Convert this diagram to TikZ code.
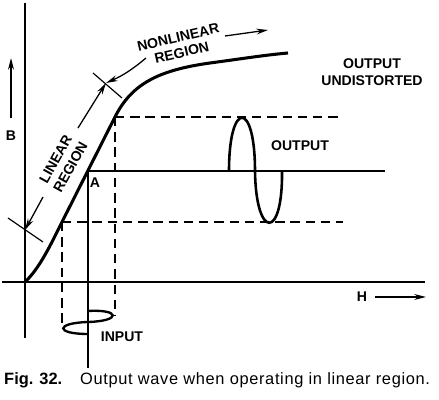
\documentclass[tikz,border=0pt]{standalone}
\usepackage{fontspec}
\setmainfont{Liberation Sans}
\newfontfamily\capfont[LetterSpace=4]{Liberation Sans}
\usetikzlibrary{arrows.meta}

\begin{document}
\begin{tikzpicture}[x=0.03cm,y=-0.03cm,
    lbl/.style={font=\fontsize{12}{14.5}\selectfont\bfseries,align=center,inner sep=0pt},
    dash line/.style={line width=1.3pt,dash pattern=on 8pt off 5pt},
    arr/.style={line width=1.1pt,-{Stealth[length=10pt,width=5pt]}}]
    \useasboundingbox (0,0) rectangle (439,400);

    % points on the curve
    \coordinate (O) at (25,282);
    \coordinate (lo) at (62,222);
    \coordinate (A) at (88,171);
    \coordinate (hi) at (115,117);
    \coordinate (end) at (288,53);

    % axes
    \coordinate (ytop) at (25,3);
    \coordinate (ybot) at (25,338);
    \coordinate (xl) at (2,282);
    \coordinate (xr) at (425,282);
    \draw[line width=1.2pt] (ytop) -- (ybot);
    \draw[line width=1.2pt] (xl) -- (xr);

    % B-H curve
    \draw[line width=2.6pt] (O) .. controls (40,268) and (52,242) .. (lo) -- (hi)
        .. controls (132,83) and (160,70) .. (210,63)
        .. controls (240,59) and (265,55) .. (end);

    % operating point and limits
    \coordinate (Ar) at (385,171);
    \coordinate (hir) at (342,117);
    \coordinate (lor) at (343,222);
    \coordinate (Ad) at (88,368);
    \coordinate (hid) at (115,316);
    \coordinate (lod) at (62,327);
    \draw[line width=1.3pt] (A) -- (Ar);
    \draw[line width=1.3pt] (A) -- (Ad);
    \draw[dash line] (hi) -- (hir);
    \draw[dash line] (lo) -- (lor);
    \draw[dash line] (hi) -- (hid);
    \draw[dash line] (lo) -- (lod);

    % input
    \draw[line width=2pt] (88,311) .. controls (120,309) and (122,321) .. (88,322)
        .. controls (55,323) and (55,334) .. (88,334);

    % output
    \draw[line width=2.2pt] (229,171) .. controls (229,100) and (255,100) .. (255,171)
        .. controls (256,240) and (283,240) .. (282,171);

    % region marks
    \coordinate (tU1) at (93,73);
    \coordinate (tU2) at (122,98);
    \coordinate (tL1) at (8,218);
    \coordinate (tL2) at (43,242);
    \coordinate (U) at (106,83);
    \coordinate (L) at (25,230);
    \draw[line width=1pt] (tU1) -- (tU2);
    \draw[line width=1pt] (tL1) -- (tL2);
    \node[lbl,rotate=61] (lin) at (63,163) {LINEAR\\REGION};
    \coordinate (g1) at (78,128);
    \coordinate (g2) at (43,197);
    \draw[arr] (g1) -- (U);
    \draw[arr] (g2) -- (L);

    \node[lbl,rotate=13,font=\fontsize{12}{13.5}\selectfont\bfseries] (nonlin) at (180,45) {NONLINEAR\\REGION};
    \coordinate (n1) at (146,58);
    \draw[arr] (n1) to[bend left=8] (U);
    \coordinate (r1) at (225,36);
    \coordinate (r2) at (268,30);
    \draw[arr] (r1) -- (r2);

    % axis labels
    \coordinate (b1) at (11,118);
    \coordinate (b2) at (11,58);
    \draw[arr] (b1) -- (b2);
    \node[lbl] (B) at (11,136) {B};
    \coordinate (h1) at (375,297);
    \coordinate (h2) at (426,297);
    \draw[arr] (h1) -- (h2);
    \node[lbl] (H) at (362,297) {H};

    \node[lbl] (Alab) at (95,183) {A};
    \node[lbl] (out) at (300,146) {OUTPUT};
    \node[lbl] (undist) at (372,72) {OUTPUT\\UNDISTORTED};
    \node[lbl] (in) at (122,337) {INPUT};

    % caption
    \node[anchor=west,inner sep=0pt,font=\fontsize{14}{16}\selectfont\bfseries] (fig) at (4,380) {Fig. 32.};
    \node[anchor=west,inner sep=0pt,font=\fontsize{14}{16}\capfont] (cap) at (80,380) {Output wave when operating in linear region.};
\end{tikzpicture}
\end{document}
